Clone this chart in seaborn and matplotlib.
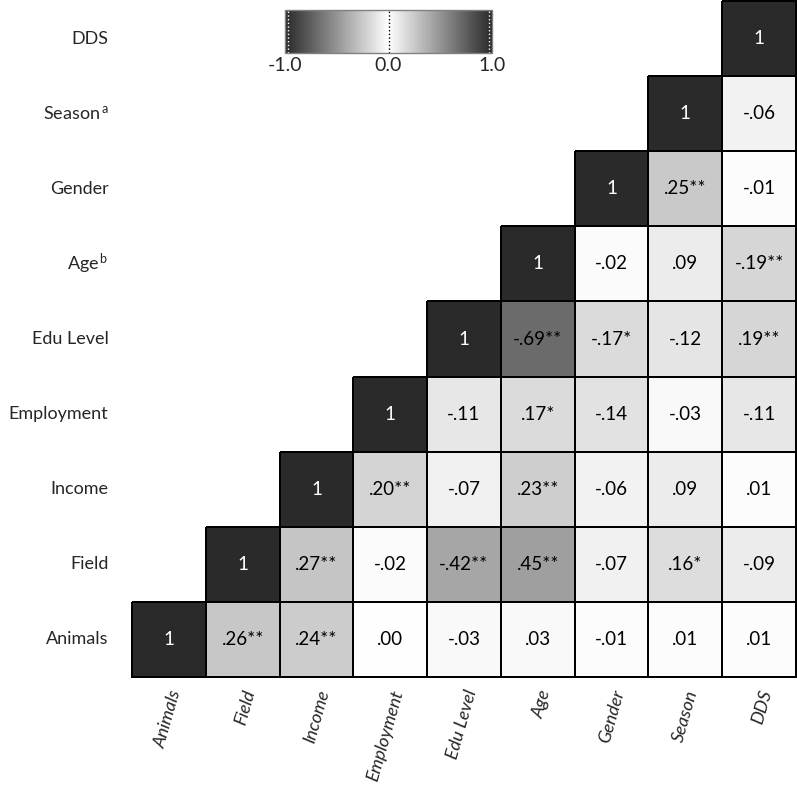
import numpy as np
import matplotlib
matplotlib.use("Agg")
import matplotlib.pyplot as plt
import seaborn as sns
from matplotlib.colors import LinearSegmentedColormap

sns.set_style("white")
plt.rcParams["font.family"] = ["Lato", "DejaVu Sans"]
plt.rcParams["mathtext.fontset"] = "custom"
plt.rcParams["mathtext.rm"] = "Lato"
plt.rcParams["mathtext.it"] = "Lato:italic"

# variables, left to right on the x axis
variables = ["Animals", "Field", "Income", "Employment", "Edu Level",
             "Age", "Gender", "Season", "DDS"]
row_labels = ["DDS", "Season$^{\\,\\mathrm{a}}$", "Gender", "Age$^{\\,\\mathrm{b}}$",
              "Edu Level", "Employment", "Income", "Field", "Animals"]

# correlations of each variable with itself and the ones after it
r_animals = [1, .26, .24, .00, -.03, .03, -.01, .01, .01]
r_field = [1, .27, -.02, -.42, .45, -.07, .16, -.09]
r_income = [1, .20, -.07, .23, -.06, .09, .01]
r_employment = [1, -.11, .17, -.14, -.03, -.11]
r_edu = [1, -.69, -.17, -.12, .19]
r_age = [1, -.02, .09, -.19]
r_gender = [1, .25, -.01]
r_season = [1, -.06]
r_dds = [1]

s_animals = ["", "**", "**", "", "", "", "", "", ""]
s_field = ["", "**", "", "**", "**", "", "*", ""]
s_income = ["", "**", "", "**", "", "", ""]
s_employment = ["", "", "*", "", "", ""]
s_edu = ["", "**", "*", "", "**"]
s_age = ["", "", "", "**"]
s_gender = ["", "**", ""]
s_season = ["", ""]
s_dds = [""]

r_rows = [r_animals, r_field, r_income, r_employment, r_edu, r_age,
          r_gender, r_season, r_dds]
s_rows = [s_animals, s_field, s_income, s_employment, s_edu, s_age,
          s_gender, s_season, s_dds]

n = len(variables)
corr = np.zeros((n, n))
stars = np.full((n, n), "", dtype=object)
for i in range(n):
    for k, (v, s) in enumerate(zip(r_rows[i], s_rows[i])):
        j = i + k
        corr[i, j] = corr[j, i] = v
        stars[i, j] = stars[j, i] = s


def fmt(v, s):
    if v == 1:
        return "1"
    txt = f"{v:.2f}".replace("0.", ".")
    return txt + s


# display: rows top->bottom DDS..Animals, columns Animals..DDS
disp = corr[::-1, :]
disp_stars = stars[::-1, :]
annot = np.array([[fmt(disp[i, j], disp_stars[i, j]) for j in range(n)]
                  for i in range(n)])
mask = np.array([[i + j < n - 1 for j in range(n)] for i in range(n)])

cmap = LinearSegmentedColormap.from_list("absgray", ["#2a2a2a", "#ffffff", "#2a2a2a"])

fig = plt.figure(figsize=(7.97, 7.98), dpi=100)
ax = fig.add_axes([132 / 797, 1 - 677 / 798, 664 / 797, 676 / 798])
cax = fig.add_axes([285 / 797, 1 - 53 / 798, 207 / 797, 43 / 798])

sns.heatmap(disp, mask=mask, cmap=cmap, vmin=-1, vmax=1, annot=annot, fmt="",
            annot_kws={"fontsize": 13.5}, linewidths=1.2, linecolor="black",
            xticklabels=variables, yticklabels=row_labels, square=False,
            ax=ax, cbar_ax=cax,
            cbar_kws={"orientation": "horizontal", "ticks": [-1, 0, 1]})

# no borders on the hidden half
mesh = ax.collections[0]
mesh.set_clip_on(False)
edge = np.array([(0, 0, 0, 0) if m else (0, 0, 0, 1) for m in mask.ravel()])
mesh.set_edgecolor(edge)

for t in ax.texts:
    t.set_color("white" if t.get_text() == "1" else "black")

ax.tick_params(length=0)
ax.set_yticklabels(row_labels, rotation=0, fontsize=13)
ax.tick_params(axis="y", pad=17)
ax.set_xticklabels(variables, rotation=74, fontsize=13, style="italic",
                   ha="right", rotation_mode="anchor")
ax.tick_params(axis="x", pad=8)

cbar = mesh.colorbar
cbar.ax.tick_params(length=0, labelsize=14, pad=3)
cbar.ax.set_xticklabels(["-1.0", "0.0", "1.0"])
cbar.outline.set_edgecolor("#808080")
cbar.outline.set_linewidth(1)
cbar.ax.axvline(0, color="black", ls=":", lw=1)
cbar.ax.axvline(-0.97, color="white", ls=":", lw=1)
cbar.ax.axvline(0.97, color="white", ls=":", lw=1)

fig.savefig("out.png", dpi=100, facecolor="white")
